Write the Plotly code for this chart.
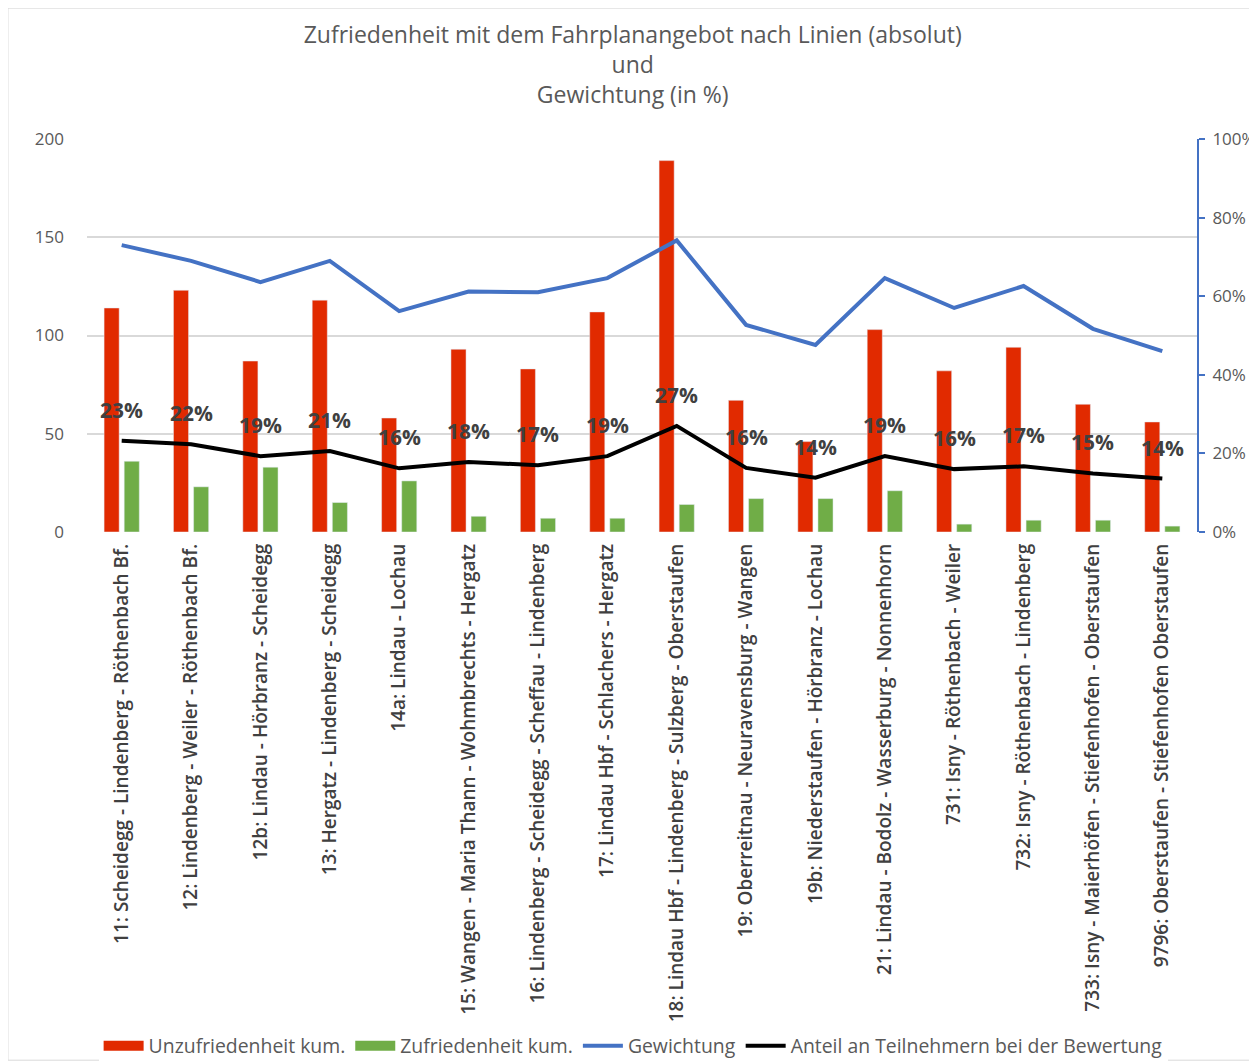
import plotly.graph_objects as go

# Linien (Kategorien)
linien = [
    "11: Scheidegg - Lindenberg - Röthenbach Bf.",
    "12: Lindenberg - Weiler - Röthenbach Bf.",
    "12b: Lindau - Hörbranz - Scheidegg",
    "13: Hergatz - Lindenberg - Scheidegg",
    "14a: Lindau - Lochau",
    "15: Wangen - Maria Thann - Wohmbrechts - Hergatz",
    "16: Lindenberg - Scheidegg - Scheffau - Lindenberg",
    "17: Lindau Hbf - Schlachers - Hergatz",
    "18: Lindau Hbf - Lindenberg - Sulzberg - Oberstaufen",
    "19: Oberreitnau - Neuravensburg - Wangen",
    "19b: Niederstaufen - Hörbranz - Lochau",
    "21: Lindau - Bodolz - Wasserburg - Nonnenhorn",
    "731: Isny - Röthenbach - Weiler",
    "732: Isny - Röthenbach - Lindenberg",
    "733: Isny - Maierhöfen - Stiefenhofen - Oberstaufen",
    "9796: Oberstaufen - Stiefenhofen Oberstaufen",
]

unzufrieden = [114, 123, 87, 118, 58, 93, 83, 112, 189, 67, 46, 103, 82, 94, 65, 56]
zufrieden = [36, 23, 33, 15, 26, 8, 7, 7, 14, 17, 17, 21, 4, 6, 6, 3]
gewichtung = [0.73, 0.69, 0.636, 0.69, 0.562, 0.612, 0.61, 0.646, 0.742, 0.527,
              0.476, 0.646, 0.57, 0.626, 0.517, 0.46]
anteil = [0.232, 0.223, 0.193, 0.206, 0.162, 0.178, 0.17, 0.193, 0.27, 0.163,
          0.138, 0.193, 0.16, 0.167, 0.149, 0.136]

grau = "#595959"
rot = "#E12A00"
gruen = "#70AD47"
schrift = "'Open Sans', 'Noto Sans', sans-serif"

fig = go.Figure()
fig.add_trace(go.Bar(x=linien, y=unzufrieden, name="Unzufriedenheit kum.",
                     marker_color=rot, showlegend=False))
fig.add_trace(go.Bar(x=linien, y=zufrieden, name="Zufriedenheit kum.",
                     marker_color=gruen, showlegend=False))
# breite Legendensymbole wie in Excel
fig.add_trace(go.Scatter(x=[None], y=[None], name="Unzufriedenheit kum.",
                         mode="lines", line=dict(color=rot, width=14)))
fig.add_trace(go.Scatter(x=[None], y=[None], name="Zufriedenheit kum.",
                         mode="lines", line=dict(color=gruen, width=14)))
fig.add_trace(go.Scatter(x=linien, y=gewichtung, name="Gewichtung", yaxis="y2",
                         mode="lines", line=dict(color="#4472C4", width=4)))
fig.add_trace(go.Scatter(x=linien, y=anteil, name="Anteil an Teilnehmern bei der Bewertung",
                         yaxis="y2", mode="lines",
                         line=dict(color="#000000", width=4)))

# Datenbeschriftungen über der schwarzen Linie
for name, v in zip(linien, anteil):
    fig.add_annotation(x=name, y=v, yref="y2", text=f"{round(v * 100)}%",
                       showarrow=False, yshift=31,
                       font=dict(size=21, color="#404040", family=schrift, weight="bold"))

fig.update_layout(
    width=1257, height=1063,
    margin=dict(l=79, r=68, t=131, b=539, autoexpand=False),
    paper_bgcolor="white", plot_bgcolor="white",
    font=dict(family=schrift, color=grau, size=16),
    title=dict(text="Zufriedenheit mit dem Fahrplanangebot nach Linien (absolut)<br>und<br>Gewichtung (in %)",
               x=0.497, xanchor="center", yref="container", y=0.967, yanchor="top",
               font=dict(size=23, color=grau)),
    barmode="group", bargap=0.42, bargroupgap=0.25,
    showlegend=True,
    legend=dict(orientation="h", x=0.492, xanchor="center", yref="container",
                y=0.0235, yanchor="middle",
                font=dict(size=19.4, color=grau), itemwidth=40, traceorder="normal"),
    xaxis=dict(tickangle=-90, tickfont=dict(size=19, color="#404040", weight=600),
               showgrid=False, showline=False, ticks="", automargin=False,
               ticklabelstandoff=7),
    yaxis=dict(range=[0, 200], dtick=50, showgrid=True, gridcolor="#d9d9d9",
               gridwidth=2, zeroline=False, showline=False, ticks="",
               ticklabelstandoff=22, automargin=False,
               tickfont=dict(size=17, color=grau)),
    yaxis2=dict(overlaying="y", side="right", range=[0, 1], dtick=0.2,
                tickformat=".0%", showgrid=False, zeroline=False,
                showline=True, linecolor="#4472C4", linewidth=2,
                ticks="outside", tickcolor="#4472C4", ticklen=6, tickwidth=2,
                automargin=False, ticklabelstandoff=4,
                tickfont=dict(size=17, color=grau)),
    shapes=[dict(type="rect", xref="paper", yref="paper",
                 x0=-0.0712, x1=1.1, y0=-1.344, y1=1.333,
                 line=dict(color="#d9d9d9", width=1))],
)

fig.write_html("out.html")
